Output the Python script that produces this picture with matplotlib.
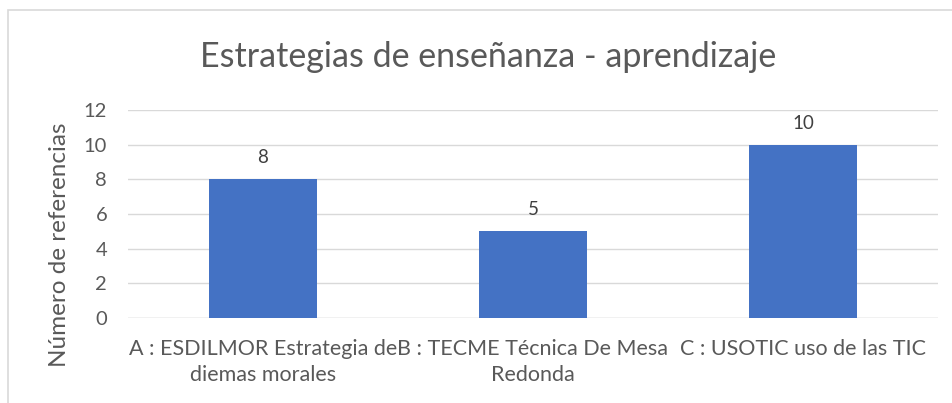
import matplotlib
matplotlib.use("Agg")
import matplotlib.pyplot as plt
import matplotlib.patches as patches

categorias = ["A : ESDILMOR Estrategia de\ndiemas morales",
              "B : TECME Técnica De Mesa\nRedonda",
              "C : USOTIC uso de las TIC"]
valores = [8, 5, 10]
yticks = [0, 2, 4, 6, 8, 10, 12]

plt.rcParams['font.family'] = ['Lato', 'DejaVu Sans']
gris = "#595959"

fig = plt.figure(figsize=(9.53, 4.03), dpi=100)
ax = fig.add_axes([128 / 953, 1 - 318 / 403, 810 / 953, 208 / 403])

# marco del grafico
marco = patches.Rectangle((8 / 953, -0.05), 1.0, 1 - 10 / 403 + 0.05,
                          transform=fig.transFigure, fill=False,
                          edgecolor="#d9d9d9", linewidth=1.2)
fig.patches.append(marco)

x = range(len(categorias))
barras = ax.bar(x, valores, width=0.4, color="#4472C4", zorder=3)
for b, v in zip(barras, valores):
    ax.text(b.get_x() + b.get_width() / 2, v + 0.75, str(v), ha="center",
            va="bottom", fontsize=13.5, color="#404040")

ax.set_xlim(-0.5, 2.5)
ax.set_ylim(0, 12)
ax.set_yticks(yticks)
ax.set_xticks(list(x))
ax.set_xticklabels(categorias, fontsize=15.5, color=gris, linespacing=1.4)
ax.tick_params(axis="y", labelsize=14.5, labelcolor=gris, length=0, pad=15)
ax.tick_params(axis="x", length=0, pad=15)
ax.yaxis.grid(True, color="#d9d9d9", linewidth=1, zorder=0)
for s in ax.spines.values():
    s.set_visible(False)
ax.axhline(0, color="#d9d9d9", linewidth=1, zorder=2)

fig.text(60 / 953, 1 - 245 / 403, "Número de referencias", rotation=90,
         ha="center", va="center", fontsize=17.5, color=gris)

fig.text(488 / 953, 1 - 67 / 403, "Estrategias de enseñanza - aprendizaje",
         ha="center", va="baseline", fontsize=24.5, color=gris)

fig.savefig("out.png", dpi=100)
